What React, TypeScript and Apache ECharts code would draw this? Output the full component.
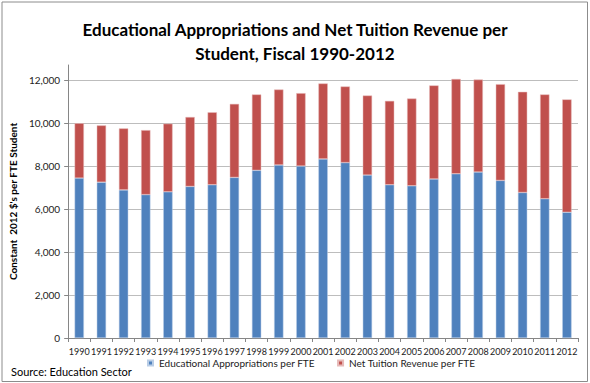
import React, { useEffect, useRef } from "react";
import * as echarts from "echarts";

const years = ["1990","1991","1992","1993","1994","1995","1996","1997","1998","1999","2000","2001","2002","2003","2004","2005","2006","2007","2008","2009","2010","2011","2012"];
const appropriations = [7440,7250,6890,6670,6800,7050,7130,7470,7800,8050,8000,8330,8160,7580,7130,7080,7400,7640,7720,7330,6770,6480,5850];
const totals = [9990,9890,9750,9670,9970,10280,10500,10890,11330,11560,11390,11840,11700,11280,11030,11140,11750,12050,12020,11810,11450,11330,11100];
const netTuition = totals.map((t, i) => t - appropriations[i]);
const yTicks = [0, 2000, 4000, 6000, 8000, 10000, 12000];

const FONT = "Lato, 'Noto Sans', sans-serif";

export default function App() {
  const ref = useRef<HTMLDivElement>(null);
  useEffect(() => {
    document.body.style.margin = "0";
    const chart = echarts.init(ref.current!, null, { renderer: "svg" });
    chart.setOption({
      animation: false,
      backgroundColor: "#ffffff",
      textStyle: { fontFamily: FONT },
      title: {
        text: "Educational Appropriations and Net Tuition Revenue per\nStudent, Fiscal 1990-2012",
        left: "center",
        top: 13,
        textStyle: { fontFamily: FONT, fontSize: 17, fontWeight: "bold", color: "#000", lineHeight: 23.5 },
      },
      legend: {
        bottom: 10,
        left: 142,
        itemWidth: 5,
        itemHeight: 5,
        itemGap: 22,
        icon: "rect",
        textStyle: { fontFamily: FONT, fontSize: 10, color: "#222", padding: [0, 0, 0, 1] },
        data: ["Educational Appropriations per FTE", "Net Tuition Revenue per FTE"],
      },
      grid: { left: 66, right: 12, top: 65, bottom: 45, containLabel: false },
      xAxis: {
        type: "category",
        data: years,
        axisLine: { lineStyle: { color: "#868686" } },
        axisTick: { show: true, length: 4, lineStyle: { color: "#868686" } },
        axisLabel: { fontFamily: FONT, fontSize: 9, color: "#222", margin: 9, interval: 0 },
      },
      yAxis: {
        type: "value",
        min: 0,
        max: 12700,
        interval: 2000,
        name: "Constant  2012 $'s per FTE Student",
        nameLocation: "middle",
        nameGap: 40,
        nameRotate: 90,
        nameTextStyle: { fontFamily: FONT, fontSize: 10, fontWeight: "bold", color: "#000", verticalAlign: "middle" },
        axisLine: { show: true, lineStyle: { color: "#868686" } },
        axisTick: { show: true, length: 4, lineStyle: { color: "#868686" }, customValues: yTicks },
        axisLabel: {
          fontFamily: FONT, fontSize: 10, color: "#222", margin: 8,
          customValues: yTicks,
          formatter: (v: number) => v.toLocaleString("en-US"),
        },
        splitLine: { show: true, lineStyle: { color: "#bdbdbd", width: 1.2 } },
      },
      series: [
        {
          name: "Educational Appropriations per FTE",
          type: "bar",
          stack: "total",
          data: appropriations,
          barWidth: "42%",
          itemStyle: { color: "#4f81bd", borderColor: "#b9cde6", borderWidth: 0.5 },
        },
        {
          name: "Net Tuition Revenue per FTE",
          type: "bar",
          stack: "total",
          data: netTuition,
          barWidth: "42%",
          itemStyle: { color: "#c0504d", borderColor: "#e6b9b8", borderWidth: 0.5 },
        },
      ],
      graphic: [
        {
          type: "rect",
          shape: { x: 2, y: 2, width: 585.5, height: 379.5 },
          style: { fill: "none", stroke: "#8c8c8c", lineWidth: 1 },
          silent: true,
          z: 100,
        },
        {
          type: "text",
          left: 11,
          top: 366,
          style: { text: "Source: Education Sector", font: `11px ${FONT}`, fill: "#000" },
        },
      ],
    });
    return () => chart.dispose();
  }, []);
  return <div ref={ref} style={{ width: 590, height: 383 }} />;
}
